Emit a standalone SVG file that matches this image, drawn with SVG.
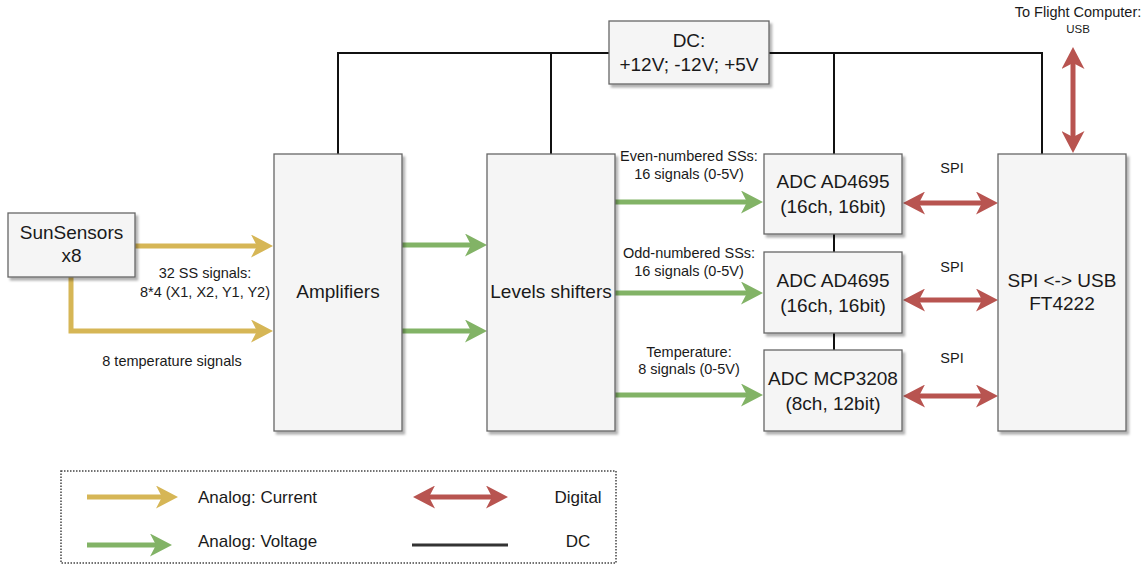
<svg xmlns="http://www.w3.org/2000/svg" width="1146" height="565" viewBox="0 0 1146 565">
<style>
.box{fill:#f5f5f5;stroke:#666;stroke-width:1.3;filter:url(#sh)}
.t{font-family:"Liberation Sans",Arial,sans-serif;fill:#1a1a1a;text-anchor:middle}
.big{font-size:19px}
.sm{font-size:14.5px}
.lg{font-size:17px}
.dc{fill:none;stroke:#111;stroke-width:2}
.or{fill:none;stroke:#d6b656;stroke-width:5}
.gr{fill:none;stroke:#82b366;stroke-width:5}
.rd{fill:none;stroke:#b85450;stroke-width:5}
</style>
<defs>
<filter id="sh" x="-10%" y="-10%" width="130%" height="130%">
<feDropShadow dx="2.5" dy="3" stdDeviation="1.2" flood-color="#000" flood-opacity="0.3"/>
</filter>
<marker id="ho" viewBox="0 0 22 23" refX="6" refY="11.5" markerWidth="22" markerHeight="23" markerUnits="userSpaceOnUse" orient="auto-start-reverse"><path d="M0,0 L22,11.5 L0,23 L6,11.5 Z" fill="#d6b656"/></marker>
<marker id="hg" viewBox="0 0 22 23" refX="6" refY="11.5" markerWidth="22" markerHeight="23" markerUnits="userSpaceOnUse" orient="auto-start-reverse"><path d="M0,0 L22,11.5 L0,23 L6,11.5 Z" fill="#82b366"/></marker>
<marker id="hr" viewBox="0 0 22 23" refX="6" refY="11.5" markerWidth="22" markerHeight="23" markerUnits="userSpaceOnUse" orient="auto-start-reverse"><path d="M0,0 L22,11.5 L0,23 L6,11.5 Z" fill="#b85450"/></marker>
</defs>
<rect width="1146" height="565" fill="#fff"/>

<g id="connectors">
<path class="dc" d="M338,154 V53 H609"/>
<path class="dc" d="M551,53 V154"/>
<path class="dc" d="M769,53 H1042 V154"/>
<path class="dc" d="M834,53 V154"/>
<path class="dc" d="M834,234 V252"/>
<path class="dc" d="M834,333 V350"/>
<path class="or" d="M135,246 H257" marker-end="url(#ho)"/>
<path class="or" d="M71,277 V331 H257" marker-end="url(#ho)"/>
<path class="gr" d="M402,245 H471" marker-end="url(#hg)"/>
<path class="gr" d="M402,331 H471" marker-end="url(#hg)"/>
<path class="gr" d="M615,202 H747" marker-end="url(#hg)"/>
<path class="gr" d="M615,293 H747" marker-end="url(#hg)"/>
<path class="gr" d="M615,395 H747" marker-end="url(#hg)"/>
<path class="rd" d="M919,203 H982" marker-start="url(#hr)" marker-end="url(#hr)"/>
<path class="rd" d="M919,300 H982" marker-start="url(#hr)" marker-end="url(#hr)"/>
<path class="rd" d="M919,396 H982" marker-start="url(#hr)" marker-end="url(#hr)"/>
<path class="rd" d="M1073,63 V137" marker-start="url(#hr)" marker-end="url(#hr)"/>
<text class="t sm" x="205" y="278">32 SS signals:</text>
<text class="t sm" x="205" y="297">8*4 (X1, X2, Y1, Y2)</text>
<text class="t sm" x="172" y="366">8 temperature signals</text>
<text class="t sm" x="689" y="161">Even-numbered SSs:</text>
<text class="t sm" x="689" y="179">16 signals (0-5V)</text>
<text class="t sm" x="689" y="258">Odd-numbered SSs:</text>
<text class="t sm" x="689" y="276">16 signals (0-5V)</text>
<text class="t sm" x="689" y="357">Temperature:</text>
<text class="t sm" x="689" y="374">8 signals (0-5V)</text>
<text class="t sm" x="952" y="173">SPI</text>
<text class="t sm" x="952" y="272">SPI</text>
<text class="t sm" x="952" y="363">SPI</text>
<text class="t sm" x="1078" y="17">To Flight Computer:</text>
<text class="t" style="font-size:11.5px" x="1078" y="33">USB</text>
</g>

<g id="sunsensors">
<rect class="box" x="8" y="213" width="127" height="64"/>
<text class="t big" x="71.5" y="239">SunSensors</text>
<text class="t big" x="71.5" y="262">x8</text>
</g>
<g id="dc">
<rect class="box" x="609" y="21" width="160" height="63"/>
<text class="t big" x="689" y="47">DC:</text>
<text class="t big" x="689" y="71">+12V; -12V; +5V</text>
</g>
<g id="amplifiers">
<rect class="box" x="274" y="154" width="128" height="277"/>
<text class="t big" x="338" y="298">Amplifiers</text>
</g>
<g id="levels">
<rect class="box" x="487" y="154" width="128" height="277"/>
<text class="t big" x="551" y="298">Levels shifters</text>
</g>
<g id="adc1">
<rect class="box" x="764" y="154" width="138" height="80"/>
<text class="t big" x="833" y="188">ADC AD4695</text>
<text class="t big" x="833" y="213">(16ch, 16bit)</text>
</g>
<g id="adc2">
<rect class="box" x="764" y="252" width="138" height="81"/>
<text class="t big" x="833" y="287">ADC AD4695</text>
<text class="t big" x="833" y="312">(16ch, 16bit)</text>
</g>
<g id="adc3">
<rect class="box" x="764" y="350" width="138" height="81"/>
<text class="t big" x="833" y="385">ADC MCP3208</text>
<text class="t big" x="833" y="410">(8ch, 12bit)</text>
</g>
<g id="spiusb">
<rect class="box" x="998" y="154" width="128" height="277"/>
<text class="t big" x="1062" y="287">SPI &lt;-&gt; USB</text>
<text class="t big" x="1062" y="310">FT4222</text>
</g>

<g id="legend">
<rect x="61" y="471" width="555" height="92" fill="none" stroke="#444" stroke-width="1.5" stroke-dasharray="1.5 1.5"/>
<path class="or" d="M87,497 H162" marker-end="url(#ho)"/>
<path class="gr" d="M87,545 H156" marker-end="url(#hg)"/>
<path class="rd" d="M429,497 H492" marker-start="url(#hr)" marker-end="url(#hr)"/>
<path d="M412,545 H508" stroke="#333" stroke-width="3"/>
<text class="t lg" x="198" y="503" style="text-anchor:start">Analog: Current</text>
<text class="t lg" x="198" y="547" style="text-anchor:start">Analog: Voltage</text>
<text class="t lg" x="578" y="503">Digital</text>
<text class="t lg" x="578" y="547">DC</text>
</g>
</svg>
